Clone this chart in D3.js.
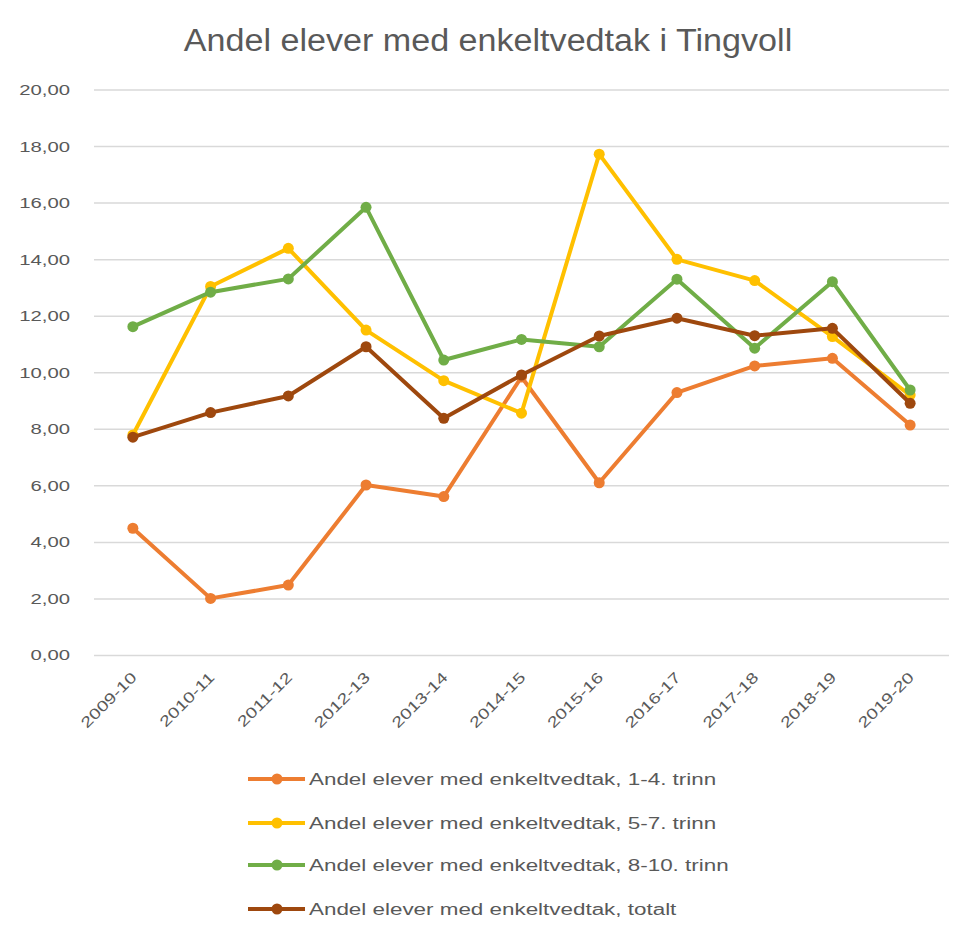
<!DOCTYPE html>
<html>
<head>
<meta charset="utf-8">
<script src="https://cdn.jsdelivr.net/npm/d3@7"></script>
<style>
  body { margin: 0; background: #fff; }
  text { font-family: "Liberation Sans", Arial, sans-serif; fill: #595959; }
</style>
</head>
<body>
<div id="chart"></div>
<script>
// Categories (school years)
var years = ["2009-10", "2010-11", "2011-12", "2012-13", "2013-14", "2014-15",
             "2015-16", "2016-17", "2017-18", "2018-19", "2019-20"];

// Series values
var trinn14 = [4.50, 2.02, 2.49, 6.03, 5.62, 9.85, 6.11, 9.30, 10.24, 10.51, 8.15];
var trinn57 = [7.80, 13.05, 14.40, 11.51, 9.72, 8.57, 17.73, 14.01, 13.26, 11.28, 9.21];
var trinn810 = [11.63, 12.85, 13.32, 15.85, 10.45, 11.18, 10.92, 13.31, 10.87, 13.22, 9.39];
var totalt = [7.72, 8.59, 9.18, 10.92, 8.39, 9.92, 11.30, 11.93, 11.31, 11.57, 8.92];

var seriesNames = [
    "Andel elever med enkeltvedtak, 1-4. trinn",
    "Andel elever med enkeltvedtak, 5-7. trinn",
    "Andel elever med enkeltvedtak, 8-10. trinn",
    "Andel elever med enkeltvedtak, totalt"
];
var yTicks = [0, 2, 4, 6, 8, 10, 12, 14, 16, 18, 20];

var series = [trinn14, trinn57, trinn810, totalt].map(function(v, i) {
    return { name: seriesNames[i], values: v };
});

// Chart dimensions
var width = 972;
var height = 938;
var margin = { top: 90, left: 94, right: 23, bottom: 283 };

var svg = d3.select("#chart")
    .append("svg")
    .attr("width", width)
    .attr("height", height);

var color = d3.scaleOrdinal()
    .domain(seriesNames)
    .range(["#ED7D31", "#FFC000", "#70AD47", "#9E480E"]);

var x = d3.scaleBand()
    .domain(years)
    .range([margin.left, width - margin.right]);

var y = d3.scaleLinear()
    .domain([0, 20])
    .range([height - margin.bottom + 0.5, margin.top]);

// the reference text is rendered wider than our fonts, so stretch it
function stretch(sel, factor) {
    sel.each(function() {
        var w = this.getComputedTextLength();
        d3.select(this)
            .attr("textLength", w * factor)
            .attr("lengthAdjust", "spacingAndGlyphs");
    });
}

// Title
svg.append("text")
    .attr("x", 488)
    .attr("y", 51)
    .attr("text-anchor", "middle")
    .attr("font-size", "31px")
    .text("Andel elever med enkeltvedtak i Tingvoll")
    .call(stretch, 1.1);

// Gridlines
svg.append("g")
    .selectAll("line")
    .data(yTicks)
    .enter()
    .append("line")
    .attr("x1", margin.left)
    .attr("x2", width - margin.right)
    .attr("y1", d => y(d))
    .attr("y2", d => y(d))
    .attr("stroke", "#d9d9d9")
    .attr("stroke-width", 1.5);

// Y axis
var yAxis = svg.append("g")
    .attr("transform", "translate(" + (margin.left - 24) + ",0)")
    .call(d3.axisLeft(y).tickValues(yTicks).tickSize(0)
        .tickFormat(d => d3.format(".2f")(d).replace(".", ",")));
yAxis.select(".domain").remove();
yAxis.selectAll("text")
    .attr("x", 0)
    .attr("font-size", "14px")
    .attr("font-family", "Liberation Sans, Arial, sans-serif")
    .attr("fill", "#595959")
    .call(stretch, 1.45);

// X axis
var xAxis = svg.append("g")
    .attr("transform", "translate(0," + y(0) + ")")
    .call(d3.axisBottom(x).tickSize(0));
xAxis.select(".domain").remove();
xAxis.selectAll("text")
    .attr("font-size", "15px")
    .attr("font-family", "Liberation Sans, Arial, sans-serif")
    .attr("fill", "#595959")
    .attr("text-anchor", "end")
    .attr("dy", "0.35em")
    .attr("transform", "translate(-1,17) rotate(-45)")
    .call(stretch, 1.3);

// Lines
var line = d3.line()
    .x((d, i) => x(years[i]) + x.bandwidth() / 2)
    .y(d => y(d));

var groups = svg.selectAll(".series")
    .data(series)
    .enter()
    .append("g")
    .attr("class", "series");

groups.append("path")
    .attr("d", d => line(d.values))
    .attr("fill", "none")
    .attr("stroke", d => color(d.name))
    .attr("stroke-width", 4)
    .attr("stroke-linejoin", "round");

groups.selectAll("circle")
    .data(d => d.values.map(v => ({ v: v, name: d.name })))
    .enter()
    .append("circle")
    .attr("cx", (d, i) => x(years[i]) + x.bandwidth() / 2)
    .attr("cy", d => y(d.v))
    .attr("r", 5.5)
    .attr("fill", d => color(d.name));

// Legend
var legend = svg.append("g")
    .attr("transform", "translate(248,779)");

var items = legend.selectAll(".legend-item")
    .data(seriesNames)
    .enter()
    .append("g")
    .attr("class", "legend-item")
    .attr("transform", (d, i) => "translate(0," + [0, 44, 86, 130][i] + ")");

items.append("line")
    .attr("x1", 0)
    .attr("x2", 57)
    .attr("stroke", d => color(d))
    .attr("stroke-width", 4);

items.append("circle")
    .attr("cx", 29)
    .attr("r", 5.5)
    .attr("fill", d => color(d));

items.append("text")
    .attr("x", 61)
    .attr("dy", "0.35em")
    .attr("font-size", "16px")
    .text(d => d)
    .call(stretch, 1.4);
</script>
</body>
</html>
